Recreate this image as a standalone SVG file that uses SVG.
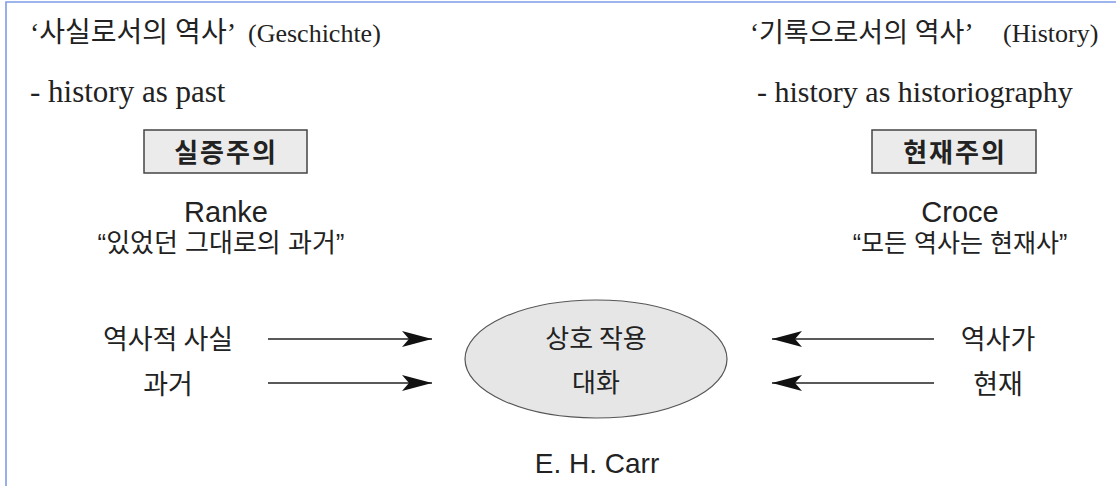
<svg xmlns="http://www.w3.org/2000/svg" width="1116" height="486" viewBox="0 0 1116 486">
<style>
.serif{font-family:"Liberation Serif","Noto Sans CJK KR",serif;fill:#222}
.sans{font-family:"Liberation Sans","Noto Sans CJK KR",sans-serif;fill:#222}
.kr{font-family:"Noto Sans CJK KR",sans-serif;fill:#222}
.box{fill:#ebebeb;stroke:#444;stroke-width:1.5}
.conn{stroke:#222;stroke-width:1.5;fill:none}
</style>
<defs>
<marker id="ah" markerUnits="userSpaceOnUse" markerWidth="32" markerHeight="18" refX="30" refY="9" orient="auto">
<path d="M0,1 L30,9 L0,17 L7,9 z" fill="#111"/>
</marker>
</defs>
<rect width="1116" height="486" fill="#fff"/>
<path d="M6,486 V2 H1116" fill="none" stroke="#7f9ce8" stroke-width="1.6"/>

<g id="title-left">
<text class="serif" x="30" y="42" font-size="28">‘사실로서의 역사’<tspan x="248" font-size="26">(Geschichte)</tspan></text>
<text class="serif" x="30" y="102" font-size="31">- history as past</text>
</g>
<g id="title-right">
<text class="serif" x="750" y="42" font-size="27">‘기록으로서의 역사’<tspan x="1003" font-size="26">(History)</tspan></text>
<text class="serif" x="757" y="102" font-size="30">- history as historiography</text>
</g>

<g id="box-left">
<rect class="box" x="144" y="130" width="163" height="43"/>
<text class="kr" x="226" y="162" font-size="26" font-weight="bold" letter-spacing="2" text-anchor="middle">실증주의</text>
</g>
<g id="box-right">
<rect class="box" x="872" y="130" width="164" height="43"/>
<text class="kr" x="955" y="162" font-size="26" font-weight="bold" letter-spacing="2" text-anchor="middle">현재주의</text>
</g>

<g id="ranke">
<text class="sans" x="226" y="222" font-size="29" text-anchor="middle">Ranke</text>
<text class="sans" x="221" y="252" font-size="26" text-anchor="middle">“있었던 그대로의 과거”</text>
</g>
<g id="croce">
<text class="sans" x="960" y="222" font-size="29" text-anchor="middle">Croce</text>
<text class="sans" x="960" y="252" font-size="25" text-anchor="middle">“모든 역사는 현재사”</text>
</g>

<g id="left-labels">
<text class="kr" x="168" y="349" font-size="27" text-anchor="middle">역사적 사실</text>
<text class="kr" x="168" y="394" font-size="27" text-anchor="middle">과거</text>
</g>
<g id="right-labels">
<text class="kr" x="998" y="349" font-size="27" text-anchor="middle">역사가</text>
<text class="kr" x="998" y="394" font-size="27" text-anchor="middle">현재</text>
</g>

<g id="center">
<ellipse cx="596" cy="359" rx="131" ry="59" fill="#e6e6e6" stroke="#555" stroke-width="1.2"/>
<text class="kr" x="596" y="348" font-size="26" text-anchor="middle">상호 작용</text>
<text class="kr" x="596" y="392" font-size="26" text-anchor="middle">대화</text>
</g>

<g id="carr">
<text class="sans" x="597" y="473" font-size="28" text-anchor="middle">E. H. Carr</text>
</g>

<g id="connectors">
<line class="conn" x1="268" y1="339" x2="432" y2="339" marker-end="url(#ah)"/>
<line class="conn" x1="268" y1="383" x2="432" y2="383" marker-end="url(#ah)"/>
<line class="conn" x1="934" y1="339" x2="772" y2="339" marker-end="url(#ah)"/>
<line class="conn" x1="934" y1="383" x2="772" y2="383" marker-end="url(#ah)"/>
</g>
</svg>
